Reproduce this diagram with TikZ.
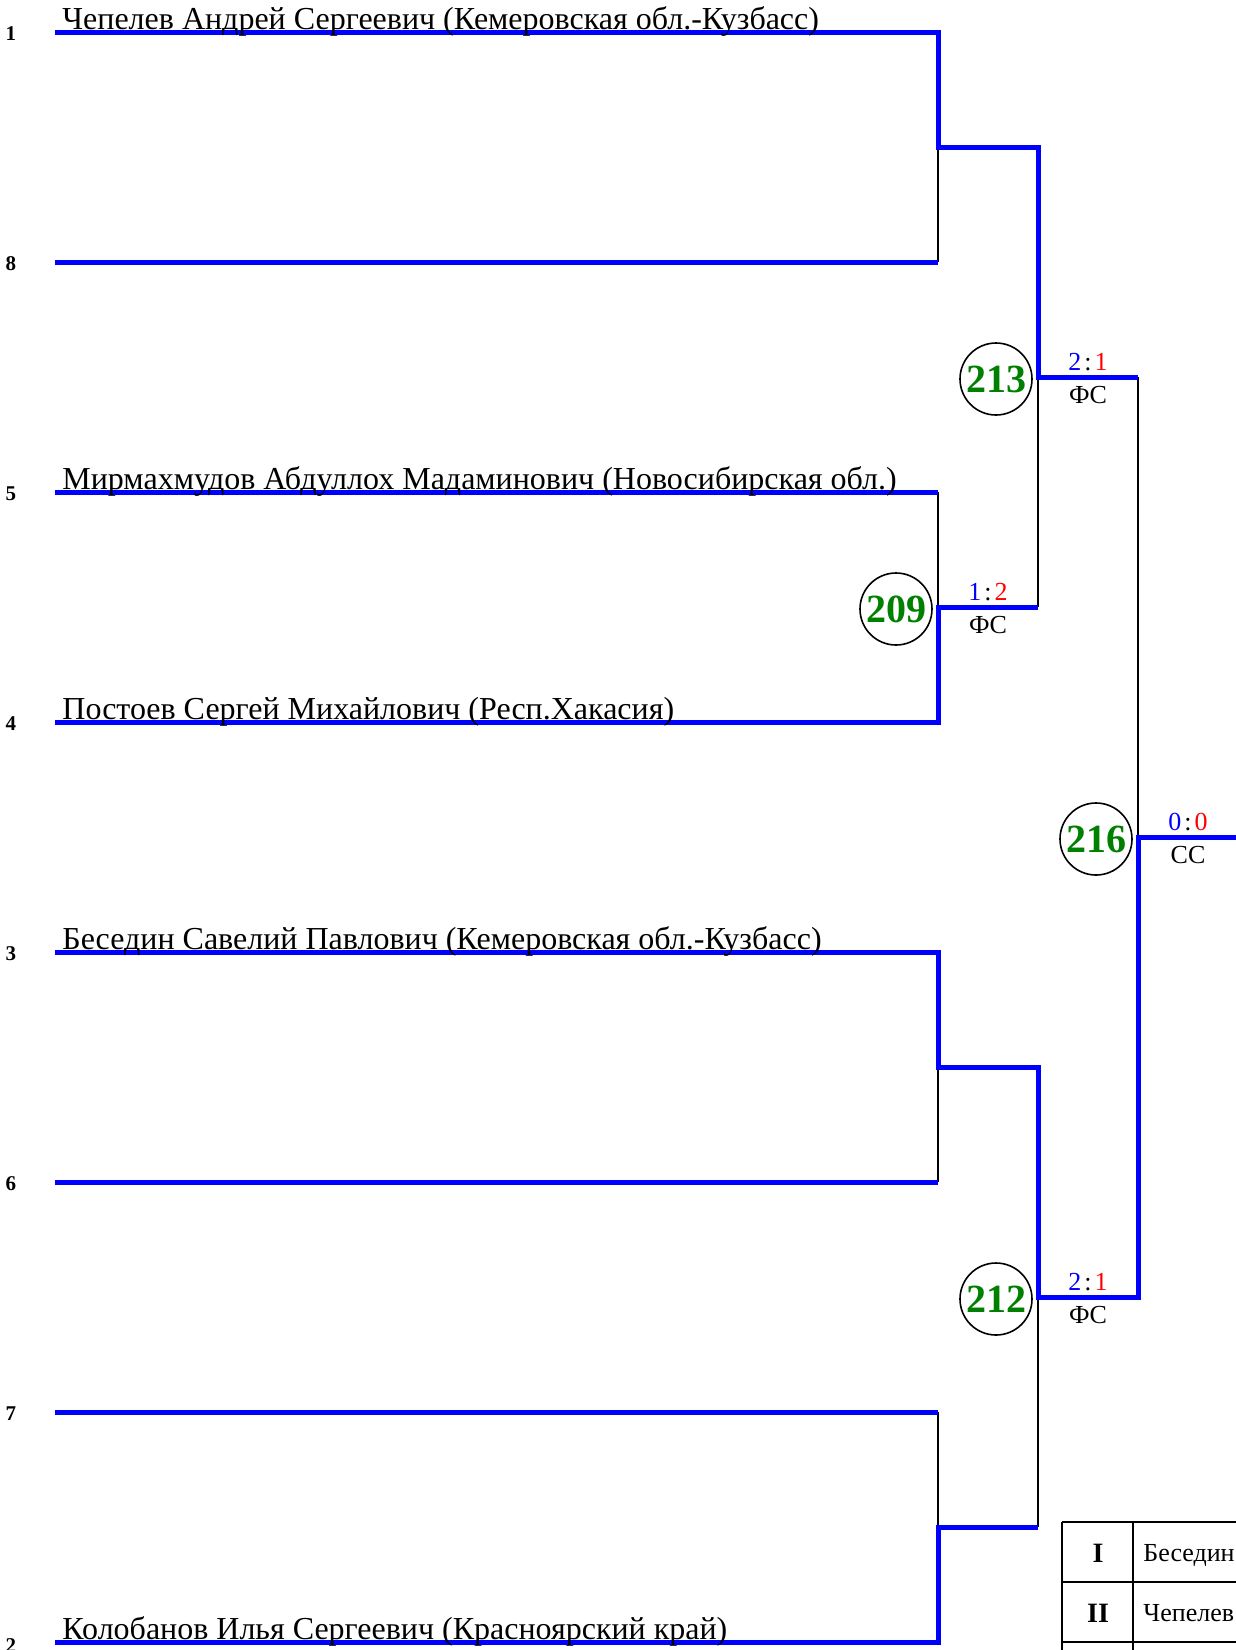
\documentclass[tikz,border=0pt]{standalone}
\usepackage{fontspec}
\setmainfont{Liberation Serif}
\definecolor{boutgreen}{RGB}{0,128,0}
\begin{document}
\begin{tikzpicture}[x=0.5pt,y=-0.5pt,
    win/.style={draw=blue,line width=2.5pt},
    lose/.style={draw=black,line width=0.8pt},
    seed/.style={font=\bfseries\fontsize{10.5}{12}\selectfont,inner sep=0pt},
    fighter/.style={font=\fontsize{16}{19}\selectfont,anchor=base west,inner sep=0pt},
    bout/.style={draw,circle,line width=0.8pt,minimum size=36pt,inner sep=0pt,
      text=boutgreen,font=\bfseries\fontsize{20}{24}\selectfont},
    score/.style={font=\fontsize{13}{15}\selectfont,anchor=base,inner sep=0pt},
    grid/.style={draw=black,line width=1pt},
    place/.style={font=\bfseries\fontsize{14}{17}\selectfont,anchor=base,inner sep=0pt},
    winner/.style={font=\fontsize{13}{15}\selectfont,anchor=base west,inner sep=0pt}]
  \useasboundingbox (0,0) rectangle (1236,1650);
  \foreach \n/\y/\d in {1/32/2,8/262/2,5/492/2,4/722/2,3/952/2,6/1182/2,7/1412/2,2/1642/4} {
    \node[seed] (seed\n) at (11,\y+\d) {\n};
    \coordinate (a\n) at (55,\y);
    \coordinate (b\n) at (938,\y);
  }
  \coordinate (mA) at (938,147);  \coordinate (nA) at (1038,147);
  \coordinate (mB) at (938,607);  \coordinate (nB) at (1038,607);
  \coordinate (mC) at (938,1067); \coordinate (nC) at (1038,1067);
  \coordinate (mD) at (938,1527); \coordinate (nD) at (1038,1527);
  \coordinate (mE) at (1038,377); \coordinate (nE) at (1138,377);
  \coordinate (mF) at (1038,1297); \coordinate (nF) at (1138,1297);
  \coordinate (mG) at (1138,837); \coordinate (nG) at (1240,837);
  \begin{scope}[lose]
    \draw (b8) -- (mA);
    \draw (b5) -- (mB);
    \draw (b6) -- (mC);
    \draw (b7) -- (mD);
    \draw (nB) -- (mE);
    \draw (nD) -- (mF);
    \draw (nE) -- (mG);
  \end{scope}
  \begin{scope}[win]
    \draw (a8) -- (b8);
    \draw (a5) -- (b5);
    \draw (a6) -- (b6);
    \draw (a7) -- (b7);
    \draw (a1) -- (b1) -- (mA) -- (nA) -- (mE) -- (nE);
    \draw (a4) -- (b4) -- (mB) -- (nB);
    \draw (a3) -- (b3) -- (mC) -- (nC) -- (mF) -- (nF) -- (mG) -- (nG);
    \draw (a2) -- (b2) -- (mD) -- (nD);
  \end{scope}
  \node[fighter] (name1) at (62,29) {Чепелев Андрей Сергеевич (Кемеровская обл.-Кузбасс)};
  \node[fighter] (name5) at (62,489) {Мирмахмудов Абдуллох Мадаминович (Новосибирская обл.)};
  \node[fighter] (name4) at (62,719) {Постоев Сергей Михайлович (Респ.Хакасия)};
  \node[fighter] (name3) at (62,949) {Беседин Савелий Павлович (Кемеровская обл.-Кузбасс)};
  \node[fighter] (name2) at (62,1639) {Колобанов Илья Сергеевич (Красноярский край)};
  \foreach \b/\x/\y/\s/\t/\f in {209/988/607/1/2/ФС,213/1088/377/2/1/ФС,
      216/1188/837/0/0/СС,212/1088/1297/2/1/ФС} {
    \node[bout] (bout\b) at (\x-92,\y+2) {\b};
    \node[score] (score\b) at (\x,\y-7)
      {\textcolor{blue}{\s}\kern1.5pt:\kern1.5pt\textcolor{red}{\t}};
    \node[score] (form\b) at (\x,\y+26) {\f};
  }
  \draw[grid] (1062,1522) -- (1240,1522);
  \draw[grid] (1062,1582) -- (1240,1582);
  \draw[grid] (1062,1642) -- (1240,1642);
  \draw[grid] (1062,1522) -- (1062,1652);
  \draw[grid] (1133,1522) -- (1133,1652);
  \node[place] (place1) at (1098,1562) {I};
  \node[place] (place2) at (1098,1622) {II};
  \node[winner] (winner1) at (1143,1561) {Беседин};
  \node[winner] (winner2) at (1143,1621) {Чепелев};
\end{tikzpicture}
\end{document}
